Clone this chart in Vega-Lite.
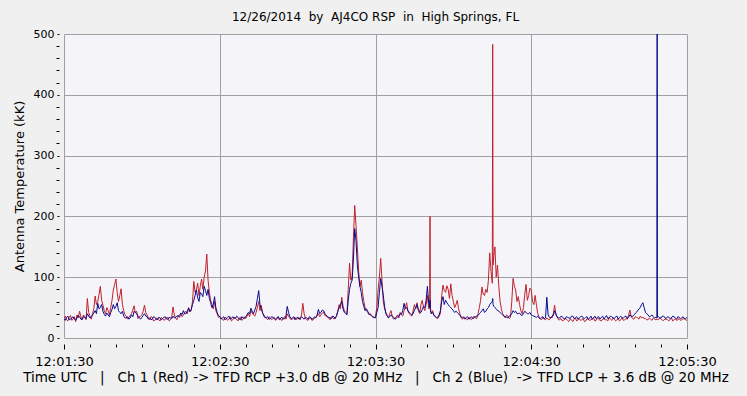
{
  "$schema": "https://vega.github.io/schema/vega-lite/v6.json",
  "width": 623,
  "height": 304,
  "autosize": {"type": "none"},
  "padding": {"left": 64, "top": 34, "right": 60, "bottom": 58},
  "background": "#F0F0F0",
  "title": {"text": "12/26/2014 \u00a0by \u00a0AJ4CO RSP \u00a0in \u00a0High Springs, FL", "font": "DejaVu Sans", "fontSize": 12, "fontWeight": "normal", "color": "#000000", "offset": 4, "anchor": "middle", "frame": "group"},
  "config": {
    "view": {"fill": "#F5F5F9", "stroke": "#A0A0A0"},
    "axis": {"labelFont": "DejaVu Sans", "titleFont": "DejaVu Sans", "labelFontSize": 11, "titleFontSize": 13, "labelColor": "#000000", "titleColor": "#000000", "titleFontWeight": "normal", "tickColor": "#000000", "gridColor": "#A0A0A0", "domain": false, "labelOverlap": false, "labelFlush": false, "tickCount": 100}
  },
  "data": {"values": [
    {"t":0,"r":33,"b":32},{"t":1,"r":30,"b":34},{"t":2,"r":34,"b":30},{"t":3,"r":29,"b":33},{"t":4,"r":35,"b":31},
    {"t":5,"r":38,"b":33},{"t":6,"r":44,"b":35},{"t":7,"r":31,"b":30},{"t":8,"r":35,"b":34},{"t":9,"r":65,"b":40},
    {"t":10,"r":36,"b":33},{"t":11,"r":40,"b":38},{"t":12,"r":69,"b":45},{"t":13,"r":60,"b":57},{"t":14,"r":85,"b":50},
    {"t":15,"r":54,"b":44},{"t":16,"r":40,"b":36},{"t":17,"r":45,"b":38},{"t":18,"r":50,"b":42},{"t":19,"r":79,"b":55},
    {"t":20,"r":97,"b":52},{"t":21,"r":60,"b":45},{"t":22,"r":81,"b":40},{"t":23,"r":45,"b":36},{"t":24,"r":36,"b":33},
    {"t":25,"r":34,"b":31},{"t":26,"r":40,"b":38},{"t":27,"r":53,"b":44},{"t":28,"r":44,"b":40},{"t":29,"r":35,"b":33},
    {"t":30,"r":38,"b":34},{"t":31,"r":54,"b":40},{"t":32,"r":38,"b":35},{"t":33,"r":30,"b":33},{"t":34,"r":34,"b":31},
    {"t":35,"r":29,"b":34},{"t":36,"r":33,"b":30},{"t":37,"r":28,"b":33},{"t":38,"r":32,"b":32},{"t":39,"r":31,"b":35},
    {"t":40,"r":34,"b":31},{"t":41,"r":30,"b":33},{"t":42,"r":51,"b":36},{"t":43,"r":33,"b":34},{"t":44,"r":36,"b":37},
    {"t":45,"r":40,"b":41},{"t":46,"r":38,"b":45},{"t":47,"r":44,"b":40},{"t":48,"r":50,"b":49},{"t":49,"r":45,"b":47},
    {"t":50,"r":93,"b":62},{"t":51,"r":80,"b":79},{"t":52,"r":70,"b":60},{"t":53,"r":97,"b":72},{"t":54,"r":100,"b":85},
    {"t":55,"r":138,"b":70},{"t":56,"r":75,"b":65},{"t":57,"r":55,"b":50},{"t":58,"r":60,"b":68},{"t":59,"r":40,"b":42},
    {"t":60,"r":36,"b":35},{"t":61,"r":31,"b":33},{"t":62,"r":34,"b":30},{"t":63,"r":29,"b":34},{"t":64,"r":35,"b":31},
    {"t":65,"r":30,"b":35},{"t":66,"r":33,"b":32},{"t":67,"r":28,"b":34},{"t":68,"r":34,"b":30},{"t":69,"r":31,"b":33},
    {"t":70,"r":32,"b":35},{"t":71,"r":40,"b":42},{"t":72,"r":45,"b":49},{"t":73,"r":38,"b":40},{"t":74,"r":42,"b":52},
    {"t":75,"r":60,"b":78},{"t":76,"r":54,"b":48},{"t":77,"r":38,"b":36},{"t":78,"r":32,"b":34},{"t":79,"r":35,"b":31},
    {"t":80,"r":30,"b":35},{"t":81,"r":34,"b":32},{"t":82,"r":31,"b":33},{"t":83,"r":33,"b":30},{"t":84,"r":29,"b":34},
    {"t":85,"r":35,"b":32},{"t":86,"r":40,"b":52},{"t":87,"r":33,"b":35},{"t":88,"r":31,"b":33},{"t":89,"r":34,"b":30},
    {"t":90,"r":32,"b":34},{"t":91,"r":30,"b":32},{"t":92,"r":57,"b":33},{"t":93,"r":32,"b":34},{"t":94,"r":29,"b":31},
    {"t":95,"r":33,"b":34},{"t":96,"r":30,"b":32},{"t":97,"r":34,"b":33},{"t":98,"r":40,"b":47},{"t":99,"r":38,"b":42},
    {"t":100,"r":43,"b":45},{"t":101,"r":36,"b":38},{"t":102,"r":33,"b":34},{"t":103,"r":35,"b":32},{"t":104,"r":31,"b":35},
    {"t":105,"r":36,"b":37},{"t":106,"r":55,"b":50},{"t":107,"r":67,"b":60},{"t":108,"r":45,"b":42},{"t":109,"r":40,"b":38},
    {"t":110,"r":123,"b":80},{"t":111,"r":100,"b":95},{"t":112,"r":218,"b":180},{"t":113,"r":150,"b":120},{"t":114,"r":85,"b":85},
    {"t":115,"r":75,"b":60},{"t":116,"r":50,"b":45},{"t":117,"r":42,"b":44},{"t":118,"r":40,"b":38},{"t":119,"r":34,"b":35},
    {"t":120,"r":36,"b":33},{"t":121,"r":79,"b":50},{"t":122,"r":131,"b":98},{"t":123,"r":60,"b":70},{"t":124,"r":42,"b":40},
    {"t":125,"r":34,"b":33},{"t":126,"r":45,"b":38},{"t":127,"r":31,"b":34},{"t":128,"r":35,"b":32},{"t":129,"r":33,"b":36},
    {"t":130,"r":38,"b":39},{"t":131,"r":45,"b":57},{"t":132,"r":58,"b":50},{"t":133,"r":40,"b":42},{"t":134,"r":36,"b":38},
    {"t":135,"r":55,"b":46},{"t":136,"r":58,"b":55},{"t":137,"r":40,"b":43},{"t":138,"r":62,"b":47},{"t":139,"r":45,"b":50},
    {"t":140,"r":70,"b":85},{"t":140.85,"r":50,"b":50},{"t":141,"r":200,"b":62},{"t":141.15,"r":50,"b":45},{"t":142,"r":45,"b":42},
    {"t":143,"r":36,"b":35},{"t":144,"r":32,"b":34},{"t":145,"r":40,"b":45},{"t":146,"r":87,"b":68},{"t":147,"r":75,"b":62},
    {"t":148,"r":80,"b":55},{"t":149,"r":89,"b":50},{"t":150,"r":60,"b":45},{"t":151,"r":55,"b":44},{"t":152,"r":48,"b":40},
    {"t":153,"r":33,"b":35},{"t":154,"r":35,"b":33},{"t":155,"r":31,"b":34},{"t":156,"r":34,"b":31},{"t":157,"r":30,"b":35},
    {"t":158,"r":36,"b":33},{"t":159,"r":32,"b":36},{"t":160,"r":50,"b":40},{"t":161,"r":84,"b":45},{"t":162,"r":70,"b":42},
    {"t":163,"r":75,"b":48},{"t":164,"r":140,"b":55},{"t":165,"r":90,"b":60},{"t":165.15,"r":483,"b":65},{"t":165.3,"r":120,"b":55},
    {"t":166,"r":150,"b":50},{"t":167,"r":120,"b":45},{"t":168,"r":60,"b":42},{"t":169,"r":40,"b":38},{"t":170,"r":33,"b":35},
    {"t":171,"r":36,"b":33},{"t":172,"r":34,"b":37},{"t":173,"r":98,"b":45},{"t":174,"r":79,"b":44},{"t":175,"r":68,"b":40},
    {"t":176,"r":45,"b":38},{"t":177,"r":50,"b":40},{"t":178,"r":88,"b":42},{"t":179,"r":70,"b":40},{"t":180,"r":79,"b":38},
    {"t":181,"r":55,"b":36},{"t":182,"r":54,"b":34},{"t":183,"r":35,"b":33},{"t":184,"r":30,"b":34},{"t":185,"r":32,"b":31},
    {"t":186,"r":33,"b":67},{"t":187,"r":30,"b":34},{"t":188,"r":33,"b":36},{"t":189,"r":54,"b":45},{"t":190,"r":35,"b":34},
    {"t":191,"r":30,"b":33},{"t":192,"r":28,"b":35},{"t":193,"r":32,"b":31},{"t":194,"r":29,"b":34},{"t":195,"r":31,"b":32},
    {"t":196,"r":27,"b":36},{"t":197,"r":33,"b":33},{"t":198,"r":30,"b":31},{"t":199,"r":29,"b":35},{"t":200,"r":32,"b":33},
    {"t":201,"r":28,"b":34},{"t":202,"r":31,"b":30},{"t":203,"r":30,"b":36},{"t":204,"r":33,"b":33},{"t":205,"r":29,"b":32},
    {"t":206,"r":31,"b":35},{"t":207,"r":28,"b":34},{"t":208,"r":32,"b":31},{"t":209,"r":30,"b":37},{"t":210,"r":34,"b":33},
    {"t":211,"r":29,"b":35},{"t":212,"r":31,"b":32},{"t":213,"r":30,"b":36},{"t":214,"r":28,"b":34},{"t":215,"r":33,"b":33},
    {"t":216,"r":30,"b":35},{"t":217,"r":31,"b":32},{"t":218,"r":46,"b":38},{"t":219,"r":32,"b":35},{"t":220,"r":35,"b":40},
    {"t":221,"r":33,"b":45},{"t":222,"r":36,"b":50},{"t":223,"r":34,"b":58},{"t":224,"r":32,"b":42},{"t":225,"r":30,"b":38},
    {"t":226,"r":31,"b":36},{"t":227,"r":33,"b":35},{"t":228,"r":30,"b":34},{"t":228.4,"r":31,"b":33},{"t":228.5,"r":30,"b":520},
    {"t":228.6,"r":31,"b":34},{"t":229,"r":30,"b":35},{"t":230,"r":32,"b":33},{"t":231,"r":29,"b":36},{"t":232,"r":31,"b":32},
    {"t":233,"r":28,"b":34},{"t":234,"r":33,"b":33},{"t":235,"r":30,"b":35},{"t":236,"r":29,"b":31},{"t":237,"r":32,"b":34},
    {"t":238,"r":30,"b":33},{"t":239,"r":31,"b":32},{"t":240,"r":29,"b":34},
    {"t":0.5,"r":36,"b":29},{"t":1.5,"r":28,"b":36},{"t":2.5,"r":37,"b":31},{"t":3.5,"r":31,"b":35},{"t":4.5,"r":27,"b":29},
    {"t":5.5,"r":33,"b":37},{"t":6.5,"r":35,"b":31},{"t":7.5,"r":38,"b":35},{"t":8.5,"r":30,"b":32},{"t":9.5,"r":42,"b":36},
    {"t":10.5,"r":31,"b":35},{"t":11.5,"r":48,"b":41},{"t":12.5,"r":55,"b":40},{"t":13.5,"r":72,"b":48},{"t":14.5,"r":62,"b":55},
    {"t":15.5,"r":45,"b":39},{"t":16.5,"r":50,"b":41},{"t":17.5,"r":38,"b":35},{"t":18.5,"r":62,"b":47},{"t":19.5,"r":88,"b":48},
    {"t":20.5,"r":75,"b":58},{"t":21.5,"r":70,"b":42},{"t":22.5,"r":55,"b":44},{"t":23.5,"r":38,"b":33},{"t":24.5,"r":31,"b":35},
    {"t":25.5,"r":37,"b":33},{"t":26.5,"r":46,"b":35},{"t":27.5,"r":41,"b":42},{"t":28.5,"r":32,"b":36},{"t":29.5,"r":36,"b":31},
    {"t":30.5,"r":44,"b":37},{"t":31.5,"r":42,"b":36},{"t":32.5,"r":33,"b":31},{"t":33.5,"r":35,"b":30},{"t":34.5,"r":28,"b":35},
    {"t":35.5,"r":32,"b":31},{"t":36.5,"r":30,"b":34},{"t":37.5,"r":34,"b":30},{"t":38.5,"r":29,"b":34},{"t":39.5,"r":33,"b":31},
    {"t":40.5,"r":28,"b":34},{"t":41.5,"r":35,"b":32},{"t":42.5,"r":38,"b":33},{"t":43.5,"r":30,"b":36},{"t":44.5,"r":38,"b":34},
    {"t":45.5,"r":35,"b":39},{"t":46.5,"r":42,"b":40},{"t":47.5,"r":40,"b":44},{"t":48.5,"r":44,"b":43},{"t":49.5,"r":60,"b":55},
    {"t":50.5,"r":75,"b":70},{"t":51.5,"r":90,"b":66},{"t":52.5,"r":85,"b":75},{"t":53.5,"r":80,"b":68},{"t":54.5,"r":110,"b":78},
    {"t":55.5,"r":95,"b":80},{"t":56.5,"r":62,"b":58},{"t":57.5,"r":48,"b":55},{"t":58.5,"r":45,"b":50},{"t":59.5,"r":34,"b":37},
    {"t":60.5,"r":33,"b":31},{"t":61.5,"r":29,"b":35},{"t":62.5,"r":33,"b":32},{"t":63.5,"r":31,"b":36},{"t":64.5,"r":28,"b":32},
    {"t":65.5,"r":34,"b":33},{"t":66.5,"r":31,"b":36},{"t":67.5,"r":33,"b":31},{"t":68.5,"r":29,"b":35},{"t":69.5,"r":35,"b":32},
    {"t":70.5,"r":36,"b":38},{"t":71.5,"r":35,"b":40},{"t":72.5,"r":41,"b":44},{"t":73.5,"r":36,"b":46},{"t":74.5,"r":50,"b":65},
    {"t":75.5,"r":45,"b":55},{"t":76.5,"r":40,"b":42},{"t":77.5,"r":34,"b":33},{"t":78.5,"r":30,"b":35},{"t":79.5,"r":33,"b":32},
    {"t":80.5,"r":32,"b":34},{"t":81.5,"r":29,"b":31},{"t":82.5,"r":35,"b":35},{"t":83.5,"r":30,"b":33},{"t":84.5,"r":33,"b":31},
    {"t":85.5,"r":31,"b":36},{"t":86.5,"r":35,"b":42},{"t":87.5,"r":30,"b":32},{"t":88.5,"r":33,"b":35},{"t":89.5,"r":30,"b":33},
    {"t":90.5,"r":34,"b":31},{"t":91.5,"r":38,"b":35},{"t":92.5,"r":40,"b":31},{"t":93.5,"r":30,"b":33},{"t":94.5,"r":32,"b":35},
    {"t":95.5,"r":29,"b":31},{"t":96.5,"r":33,"b":35},{"t":97.5,"r":36,"b":38},{"t":98.5,"r":35,"b":40},{"t":99.5,"r":41,"b":46},
    {"t":100.5,"r":37,"b":40},{"t":101.5,"r":34,"b":35},{"t":102.5,"r":30,"b":33},{"t":103.5,"r":34,"b":36},{"t":104.5,"r":33,"b":32},
    {"t":105.5,"r":45,"b":44},{"t":106.5,"r":48,"b":55},{"t":107.5,"r":52,"b":48},{"t":108.5,"r":42,"b":40},{"t":109.5,"r":80,"b":62},
    {"t":110.5,"r":95,"b":90},{"t":111.5,"r":165,"b":130},{"t":112.5,"r":185,"b":160},{"t":113.5,"r":110,"b":100},{"t":114.5,"r":95,"b":75},
    {"t":115.5,"r":60,"b":52},{"t":116.5,"r":45,"b":48},{"t":117.5,"r":38,"b":40},{"t":118.5,"r":36,"b":37},{"t":119.5,"r":33,"b":34},
    {"t":120.5,"r":50,"b":42},{"t":121.5,"r":100,"b":75},{"t":122.5,"r":95,"b":85},{"t":123.5,"r":48,"b":52},{"t":124.5,"r":37,"b":36},
    {"t":125.5,"r":40,"b":35},{"t":126.5,"r":34,"b":36},{"t":127.5,"r":33,"b":31},{"t":128.5,"r":38,"b":35},{"t":129.5,"r":42,"b":40},
    {"t":130.5,"r":36,"b":45},{"t":131.5,"r":50,"b":48},{"t":132.5,"r":44,"b":45},{"t":133.5,"r":38,"b":40},{"t":134.5,"r":45,"b":40},
    {"t":135.5,"r":48,"b":50},{"t":136.5,"r":45,"b":47},{"t":137.5,"r":55,"b":42},{"t":138.5,"r":50,"b":52},{"t":139.5,"r":55,"b":62},
    {"t":140.5,"r":48,"b":58},{"t":141.5,"r":40,"b":40},{"t":142.5,"r":38,"b":37},{"t":143.5,"r":34,"b":33},{"t":144.5,"r":36,"b":38},
    {"t":145.5,"r":70,"b":60},{"t":146.5,"r":78,"b":55},{"t":147.5,"r":86,"b":58},{"t":148.5,"r":65,"b":52},{"t":149.5,"r":70,"b":48},
    {"t":150.5,"r":50,"b":42},{"t":151.5,"r":62,"b":42},{"t":152.5,"r":40,"b":37},{"t":153.5,"r":31,"b":34},{"t":154.5,"r":33,"b":31},
    {"t":155.5,"r":30,"b":35},{"t":156.5,"r":32,"b":33},{"t":157.5,"r":34,"b":32},{"t":158.5,"r":33,"b":35},{"t":159.5,"r":40,"b":37},
    {"t":160.5,"r":62,"b":42},{"t":161.5,"r":72,"b":48},{"t":162.5,"r":80,"b":44},{"t":163.5,"r":95,"b":50},{"t":164.5,"r":110,"b":58},
    {"t":165.6,"r":135,"b":52},{"t":166.5,"r":100,"b":48},{"t":167.5,"r":85,"b":44},{"t":168.5,"r":48,"b":40},{"t":169.5,"r":36,"b":36},
    {"t":170.5,"r":38,"b":34},{"t":171.5,"r":32,"b":36},{"t":172.5,"r":60,"b":40},{"t":173.5,"r":85,"b":42},{"t":174.5,"r":60,"b":40},
    {"t":175.5,"r":55,"b":41},{"t":176.5,"r":40,"b":37},{"t":177.5,"r":72,"b":44},{"t":178.5,"r":62,"b":40},{"t":179.5,"r":82,"b":42},
    {"t":180.5,"r":60,"b":37},{"t":181.5,"r":70,"b":35},{"t":182.5,"r":40,"b":36},{"t":183.5,"r":31,"b":32},{"t":184.5,"r":34,"b":35},
    {"t":185.5,"r":30,"b":33},{"t":186.5,"r":31,"b":38},{"t":187.5,"r":34,"b":33},{"t":188.5,"r":40,"b":37},{"t":189.5,"r":38,"b":40},
    {"t":190.5,"r":30,"b":33},{"t":191.5,"r":32,"b":36},{"t":192.5,"r":29,"b":32},{"t":193.5,"r":31,"b":35},{"t":194.5,"r":27,"b":33},
    {"t":195.5,"r":30,"b":36},{"t":196.5,"r":31,"b":32},{"t":197.5,"r":28,"b":35},{"t":198.5,"r":32,"b":33},{"t":199.5,"r":30,"b":36},
    {"t":200.5,"r":27,"b":32},{"t":201.5,"r":32,"b":35},{"t":202.5,"r":29,"b":33},{"t":203.5,"r":31,"b":31},{"t":204.5,"r":28,"b":36},
    {"t":205.5,"r":33,"b":34},{"t":206.5,"r":29,"b":31},{"t":207.5,"r":31,"b":36},{"t":208.5,"r":30,"b":34},{"t":209.5,"r":28,"b":32},
    {"t":210.5,"r":31,"b":36},{"t":211.5,"r":33,"b":33},{"t":212.5,"r":28,"b":35},{"t":213.5,"r":32,"b":31},{"t":214.5,"r":30,"b":36},
    {"t":215.5,"r":29,"b":33},{"t":216.5,"r":32,"b":36},{"t":217.5,"r":38,"b":34},{"t":218.5,"r":35,"b":36},{"t":219.5,"r":31,"b":38},
    {"t":220.5,"r":34,"b":42},{"t":221.5,"r":31,"b":48},{"t":222.5,"r":33,"b":55},{"t":223.5,"r":32,"b":50},{"t":224.5,"r":30,"b":40},
    {"t":225.5,"r":33,"b":35},{"t":226.5,"r":29,"b":38},{"t":227.5,"r":31,"b":33},{"t":229.5,"r":33,"b":33},{"t":230.5,"r":29,"b":36},
    {"t":231.5,"r":31,"b":33},{"t":232.5,"r":30,"b":35},{"t":233.5,"r":31,"b":32},{"t":234.5,"r":28,"b":36},{"t":235.5,"r":32,"b":33},
    {"t":236.5,"r":30,"b":35},{"t":237.5,"r":29,"b":32},{"t":238.5,"r":32,"b":35},{"t":239.5,"r":30,"b":32}
  ]},
  "encoding": {
    "x": {
      "field": "t", "type": "quantitative",
      "scale": {"domain": [0, 240], "nice": false, "zero": false},
      "axis": {
        "values": [0,10,20,30,40,50,60,70,80,90,100,110,120,130,140,150,160,170,180,190,200,210,220,230,240],
        "labelExpr": "datum.value % 60 === 0 ? timeFormat(datetime(2014, 11, 26, 12, 1, 30 + datum.value), '%H:%M:%S') : ''",
        "labelFontSize": 13,
        "offset": 6,
        "tickSize": {"condition": {"test": "datum.value % 60 === 0", "value": 5}, "value": 3},
        "grid": true,
        "gridOpacity": {"condition": {"test": "datum.value % 60 === 0 && datum.value > 0 && datum.value < 240", "value": 1}, "value": 0},
        "labelPadding": 6,
        "title": "Time UTC \u00a0 | \u00a0 Ch 1 (Red) -> TFD RCP +3.0 dB @ 20 MHz \u00a0 | \u00a0 Ch 2 (Blue) \u00a0-> TFD LCP + 3.6 dB @ 20 MHz",
        "titleFontSize": 13.5,
        "titlePadding": 2
      }
    }
  },
  "layer": [
    {
      "mark": {"type": "line", "color": "#C0202C", "strokeWidth": 1, "clip": true},
      "encoding": {
        "y": {
          "field": "r", "type": "quantitative",
          "scale": {"domain": [0, 500], "nice": false},
          "title": "Antenna Temperature (kK)",
          "axis": {
            "values": [0,20,40,60,80,100,120,140,160,180,200,220,240,260,280,300,320,340,360,380,400,420,440,460,480,500],
            "labelExpr": "datum.value % 100 === 0 ? datum.label : ''",
            "labelFontSize": 11,
            "offset": 5,
            "tickSize": {"condition": {"test": "datum.value % 100 === 0", "value": 2}, "value": 3},
            "grid": true,
            "gridOpacity": {"condition": {"test": "datum.value % 100 === 0 && datum.value > 0 && datum.value < 500", "value": 1}, "value": 0},
            "labelPadding": 3,
            "titleFontSize": 13,
            "titlePadding": 7
          }
        }
      }
    },
    {
      "mark": {"type": "line", "color": "#0A0A8C", "strokeWidth": 1, "clip": true},
      "encoding": {
        "y": {"field": "b", "type": "quantitative", "title": "Antenna Temperature (kK)"}
      }
    }
  ]
}
